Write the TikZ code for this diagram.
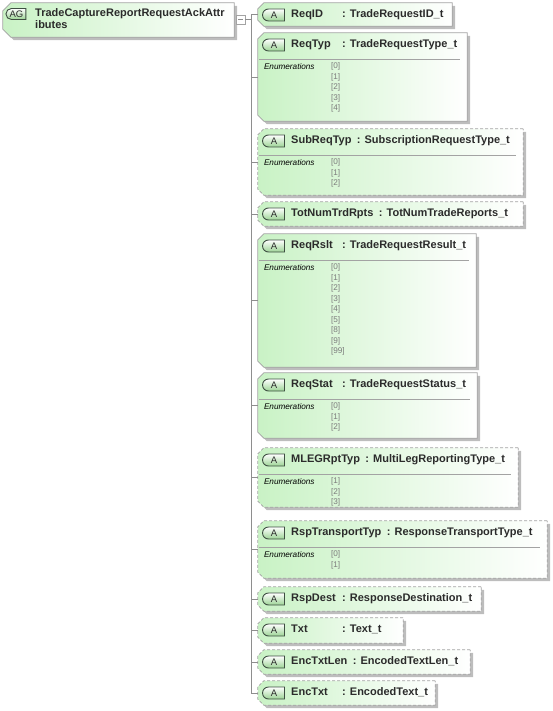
\documentclass[tikz,border=0pt]{standalone}
\usepackage{fontspec}
\setmainfont{Liberation Sans}
\usetikzlibrary{calc,positioning,shapes.misc,shadows}
\definecolor{PaleGreen}{HTML}{C9F2C5}
\definecolor{EdgeGray}{HTML}{A3A3A3}
\definecolor{ShadowGray}{HTML}{BDBDBD}
\definecolor{WireGray}{HTML}{8E8E8E}
\definecolor{InkDark}{HTML}{2B2B2B}
\definecolor{EnumGray}{HTML}{7C7C7C}
\definecolor{TagEdge}{HTML}{3E4E42}
\definecolor{TagGreen}{HTML}{9CD495}

\tikzset{
  boxspot/.style={rectangle,inner sep=0pt},
  attrframe/.style={draw=EdgeGray,line width=0.7pt,left color=PaleGreen,right color=white,
    drop shadow={shadow xshift=3pt,shadow yshift=-3pt,fill=ShadowGray,opacity=1}},
  reqbox/.style={attrframe},
  optbox/.style={attrframe,dash pattern=on 3pt off 2pt},
  tagbadge/.style={rounded rectangle,rounded rectangle right arc=none,draw=TagEdge,line width=0.9pt,
    top color=white,bottom color=TagGreen,minimum height=12pt,minimum width=22pt,inner sep=0pt,
    font=\fontsize{9.5}{10}\selectfont,text=InkDark},
  hdrtext/.style={font=\fontsize{11}{13}\selectfont\bfseries,text=InkDark,inner sep=0pt,
    text height=8pt,text depth=2.5pt,anchor=west},
  grouptext/.style={font=\fontsize{11}{12}\selectfont\bfseries,text=InkDark,inner sep=0pt,
    align=left,anchor=west},
  enumhead/.style={font=\fontsize{8.2}{10}\selectfont\itshape,text=black,inner sep=0pt,anchor=west},
  enumval/.style={font=\fontsize{8.2}{10}\selectfont,text=EnumGray,inner sep=0pt,anchor=west},
  sepline/.style={draw=EdgeGray,line width=0.7pt},
  wire/.style={draw=WireGray,line width=0.7pt},
  togglebox/.style={draw=EdgeGray,fill=white,minimum size=9pt,inner sep=0pt,line width=0.6pt,
    path picture={\draw[WireGray] ([xshift=2pt]path picture bounding box.west)
      -- ([xshift=-2pt]path picture bounding box.east);}}
}

\begin{document}
\begin{tikzpicture}[x=1pt,y=-1pt]
  \useasboundingbox (0,0) rectangle (552,711);
  % attribute group
  \node[boxspot,minimum width=231pt,minimum height=34pt] (root) at (118.5,20) {};
  \path[reqbox] (root.north east) -- ([xshift=8pt]root.north west) -- ([yshift=-8pt]root.north west)
    -- ([yshift=8pt]root.south west) -- ([xshift=8pt]root.south west) -- (root.south east) -- cycle;
  \node[tagbadge,minimum width=20pt,minimum height=11pt] (rootTag) at (16.5,14) {AG};
  \node[grouptext] (rootName) at (35,19) {TradeCaptureReportRequestAckAttr\\ibutes};
  \node[togglebox] (toggle) at (240.5,19.5) {};
  \coordinate (spine) at (251,19.5);
  \draw[wire] (toggle.east) -- (spine);

  % attributes
  \foreach \i/\nm/\ty/\ya/\yb/\xr/\kind in {
      1/ReqID/TradeRequestID\_t/3/26/452/reqbox,
      2/ReqTyp/TradeRequestType\_t/33/121/467/reqbox,
      3/SubReqTyp/SubscriptionRequestType\_t/129/195/523/optbox,
      4/TotNumTrdRpts/TotNumTradeReports\_t/202/226/523/optbox,
      5/ReqRslt/TradeRequestResult\_t/234/367/476/reqbox,
      6/ReqStat/TradeRequestStatus\_t/373/438/477/reqbox,
      7/MLEGRptTyp/MultiLegReportingType\_t/448/507/518/optbox,
      8/RspTransportTyp/ResponseTransportType\_t/521/578/547/optbox,
      9/RspDest/ResponseDestination\_t/587/611/481/optbox,
      10/Txt/Text\_t/618/643/403/optbox,
      11/EncTxtLen/EncodedTextLen\_t/650/674/470/optbox,
      12/EncTxt/EncodedText\_t/681/705/435/optbox}{
    \pgfmathsetmacro\w{\xr-258}
    \pgfmathsetmacro\h{\yb-\ya}
    \node[boxspot,minimum width=\w pt,minimum height=\h pt] (c\i) at ({(258+\xr)/2},{(\ya+\yb)/2}) {};
    \path[\kind] (c\i.north east) -- ([xshift=6pt]c\i.north west) -- ([yshift=-6pt]c\i.north west)
      -- ([yshift=6pt]c\i.south west) -- ([xshift=6pt]c\i.south west) -- (c\i.south east) -- cycle;
    \node[tagbadge] (a\i) at (274,\ya+12) {A};
    \node[hdrtext] (n\i) at (291,\ya+12) {\nm};
    \path let \p1=(n\i.east) in node[hdrtext] (t\i) at ({max(\x1+5pt,342pt)},\y1) {: \ty};
    \draw[wire] (spine |- c\i.west) -- (c\i.west);
  }
  \draw[wire] (spine |- c1.west) -- (spine |- c12.west);

  % enumeration lists
  \foreach \i/\vals in {2/{0,1,2,3,4},3/{0,1,2},5/{0,1,2,3,4,5,8,9,99},6/{0,1,2},7/{1,2,3},8/{0,1}}{
    \coordinate (s\i) at ([yshift=-27pt]c\i.north);
    \draw[sepline] ([xshift=1pt]c\i.west |- s\i) -- ([xshift=-7pt]c\i.east |- s\i);
    \node[enumhead] (e\i) at ([shift={(6pt,-7pt)}]c\i.west |- s\i) {Enumerations};
    \foreach \v [count=\k from 0] in \vals
      \node[enumval] (v\i-\k) at ([shift={(73pt,{-7pt-10.5pt*\k})}]c\i.west |- s\i) {[\v]};
  }
\end{tikzpicture}
\end{document}
